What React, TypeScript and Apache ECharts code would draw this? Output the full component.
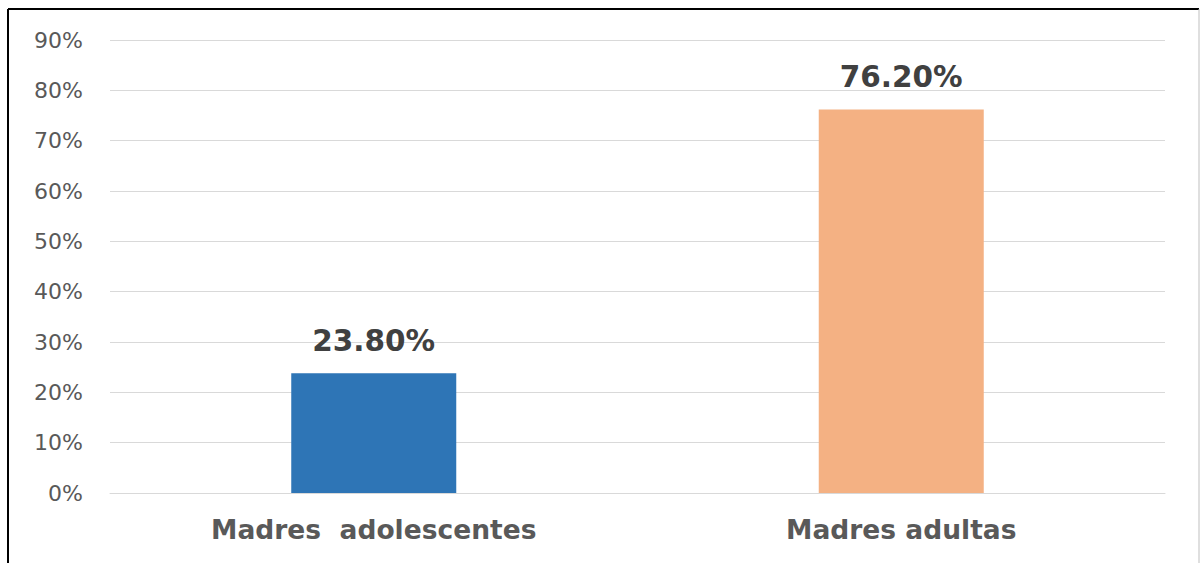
import React, { useEffect, useRef } from "react";
import * as echarts from "echarts";

const categories = ["Madres  adolescentes", "Madres adultas"];
const values = [23.8, 76.2];
const barColors = ["#2E75B6", "#F4B183"];
const yTicks = [0, 10, 20, 30, 40, 50, 60, 70, 80, 90];

export default function App() {
  const ref = useRef<HTMLDivElement>(null);
  useEffect(() => {
    if (!ref.current) return;
    const chart = echarts.init(ref.current, undefined, { renderer: "svg" });
    chart.setOption({
      animation: false,
      backgroundColor: "#ffffff",
      grid: { left: 110, right: 35, top: 40, bottom: 70 },
      xAxis: {
        type: "category",
        data: categories,
        axisLine: { show: true, lineStyle: { color: "#D9D9D9", width: 1 } },
        axisTick: { show: false },
        axisLabel: {
          color: "#595959",
          fontFamily: "DejaVu Sans",
          fontWeight: "bold",
          fontSize: 26.5,
          margin: 23,
        },
      },
      yAxis: {
        type: "value",
        min: 0,
        max: yTicks[yTicks.length - 1],
        interval: 10,
        axisLine: { show: false },
        axisTick: { show: false },
        splitLine: { lineStyle: { color: "#D9D9D9", width: 1 } },
        axisLabel: {
          color: "#595959",
          fontFamily: "DejaVu Sans",
          fontSize: 22,
          margin: 27,
          formatter: (v: number) => `${v}%`,
        },
      },
      series: [
        {
          type: "bar",
          barWidth: 165,
          data: values.map((v, i) => ({ value: v, itemStyle: { color: barColors[i] } })),
          label: {
            show: true,
            position: "top",
            distance: 17,
            color: "#404040",
            fontFamily: "DejaVu Sans",
            fontWeight: "bold",
            fontSize: 29.5,
            formatter: (p: any) => `${p.value.toFixed(2)}%`,
          },
        },
      ],
      graphic: [
        { type: "line", shape: { x1: 8, y1: 9, x2: 1199, y2: 9 }, style: { stroke: "#000", lineWidth: 2 } },
        { type: "line", shape: { x1: 8, y1: 9, x2: 8, y2: 563 }, style: { stroke: "#000", lineWidth: 2 } },
        { type: "line", shape: { x1: 1199, y1: 9, x2: 1199, y2: 563 }, style: { stroke: "#BFBFBF", lineWidth: 1 } },
      ],
    });
    return () => chart.dispose();
  }, []);
  return (
    <div
      ref={ref}
      style={{ position: "fixed", left: 0, top: 0, width: 1200, height: 563 }}
    />
  );
}
